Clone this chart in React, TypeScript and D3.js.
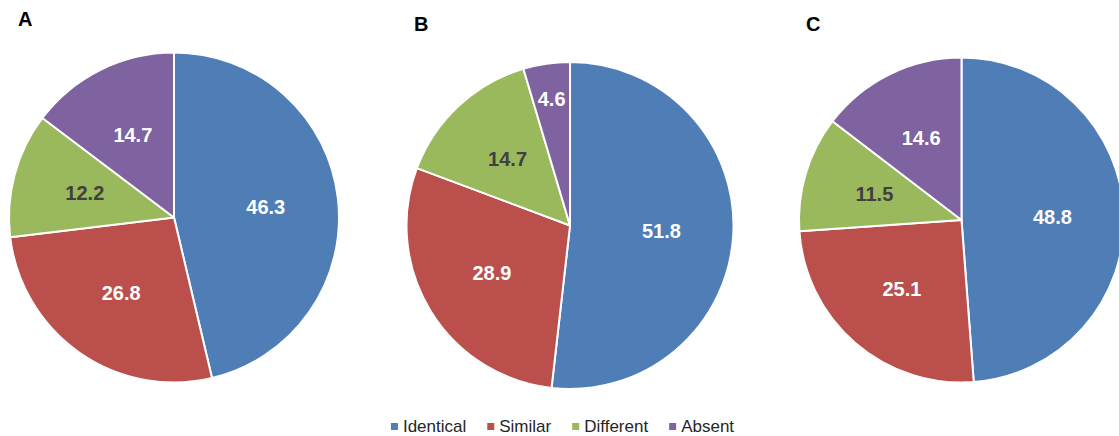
import React from 'react';
import * as d3 from 'd3';

// category names and the colour for each
const categories = ['Identical', 'Similar', 'Different', 'Absent'];
const colours = ['#4F7EB6', '#BA4F4C', '#9AB85C', '#7F62A0'];
const labelColours = ['#ffffff', '#ffffff', '#404040', '#ffffff'];

// percentages per panel
const panelNames = ['A', 'B', 'C'];
const valuesA = [46.3, 26.8, 12.2, 14.7];
const valuesB = [51.8, 28.9, 14.7, 4.6];
const valuesC = [48.8, 25.1, 11.5, 14.6];

const width = 1119,
  height = 436;

const panels = [
  { name: panelNames[0], values: valuesA, cx: 174, cy: 217.5, r: 165, lx: 18, ly: 26 },
  { name: panelNames[1], values: valuesB, cx: 570, cy: 225.5, r: 163.5, lx: 414, ly: 31 },
  { name: panelNames[2], values: valuesC, cx: 961.5, cy: 220, r: 162.5, lx: 806, ly: 31 },
];

const font = '"Liberation Sans", Arial, sans-serif';

const measure = (txt: string, size: number) => {
  const c = document.createElement('canvas').getContext('2d');
  if (!c) return txt.length * size * 0.5;
  c.font = size + 'px ' + font;
  return c.measureText(txt).width;
};

const Pie = ({ p }: { p: any }) => {
  const pie = d3
    .pie<number>()
    .sort(null)
    .value((d) => d);
  const arc = d3.arc<d3.PieArcDatum<number>>().innerRadius(0).outerRadius(p.r);
  const arcs = pie(p.values);
  // thin slices get their label pushed out towards the rim
  const labelPos = (a: d3.PieArcDatum<number>) => {
    const k = a.data < 8 ? 0.78 : 0.56;
    return d3
      .arc<d3.PieArcDatum<number>>()
      .innerRadius(p.r * k)
      .outerRadius(p.r * k)
      .centroid(a);
  };
  return (
    <g>
      <text x={p.lx} y={p.ly} style={{ fontFamily: font, fontSize: '20px', fontWeight: 'bold', fill: '#000' }}>
        {p.name}
      </text>
      <g transform={'translate(' + p.cx + ',' + p.cy + ')'}>
        {arcs.map((a, i) => (
          <path key={i} d={arc(a) || ''} fill={colours[i]} stroke="#fff" strokeWidth={2} strokeLinejoin="round" />
        ))}
        {arcs.map((a, i) => {
          const [x, y] = labelPos(a);
          return (
            <text
              key={'l' + i}
              x={x}
              y={y}
              dy="0.35em"
              textAnchor="middle"
              style={{ fontFamily: font, fontSize: '20px', fontWeight: 'bold', fill: labelColours[i] }}
            >
              {a.data.toFixed(1)}
            </text>
          );
        })}
      </g>
    </g>
  );
};

const Legend = () => {
  const size = 17,
    box = 7,
    gap = 5,
    spacing = 21;
  const widths = categories.map((c) => box + gap + measure(c, size));
  const total = d3.sum(widths) + spacing * (categories.length - 1);
  let x = 393 + (339 - total) / 2;
  const items = categories.map((c, i) => {
    const item = { c, i, x };
    x += widths[i] + spacing;
    return item;
  });
  return (
    <g>
      {items.map((it) => (
        <g key={it.c} transform={'translate(' + it.x + ',432)'}>
          <rect x={0} y={-9} width={box} height={box} fill={colours[it.i]} />
          <text x={box + gap} y={0} style={{ fontFamily: font, fontSize: size + 'px', fill: '#262626' }}>
            {it.c}
          </text>
        </g>
      ))}
    </g>
  );
};

export default function App() {
  return (
    <svg
      width={width}
      height={height}
      style={{ position: 'absolute', left: 0, top: 0, background: '#fff' }}
    >
      {panels.map((p) => (
        <Pie key={p.name} p={p} />
      ))}
      <Legend />
    </svg>
  );
}
